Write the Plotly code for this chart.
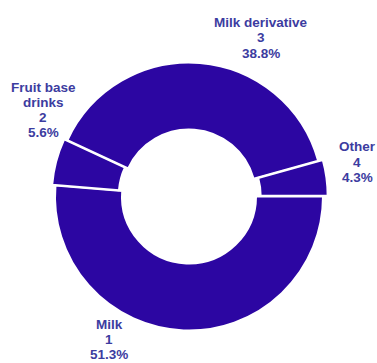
import plotly.graph_objects as go

categories = ["Milk", "Fruit base<br>drinks", "Milk derivative", "Other"]
codes = ["1", "2", "3", "4"]
shares = [51.3, 5.6, 38.8, 4.3]

W, H = 377, 363
FILL = "#2C06A2"
TEXT = "#3C3CA0"
LINE_H = 15.3

# label block centres in pixels (layout only)
label_pos = [(109, 339.5), (43, 110), (261, 38), (357, 162)]

cx, cy, r = 189, 196.5, 134
pulls = [0, 0.025, 0, 0.035]
rr = r * (1 + max(pulls))

fig = go.Figure(go.Pie(
    labels=categories,
    values=shares,
    customdata=codes,
    sort=False,
    direction="clockwise",
    rotation=90,
    hole=0.5,
    pull=pulls,
    marker=dict(colors=[FILL] * len(shares), line=dict(color="white", width=2)),
    textinfo="none",
    hoverinfo="label+percent",
    showlegend=False,
    domain=dict(x=[(cx - rr) / W, (cx + rr) / W],
                y=[(H - cy - rr) / H, (H - cy + rr) / H]),
))

annotations = []
for lab, code, s, (px, py) in zip(categories, codes, shares, label_pos):
    lines = lab.split("<br>") + [code, f"{s:.1f}%"]
    n = len(lines)
    for i, ln in enumerate(lines):
        ly = py + (i - (n - 1) / 2) * LINE_H
        annotations.append(dict(
            text=f"<b>{ln}</b>",
            x=px / W, y=1 - ly / H, xref="paper", yref="paper",
            xanchor="center", yanchor="middle", showarrow=False,
            font=dict(family="Liberation Sans, Arial, sans-serif", size=13.5, color=TEXT),
        ))

fig.update_layout(
    width=W, height=H,
    margin=dict(l=0, r=0, t=0, b=0),
    paper_bgcolor="white", plot_bgcolor="white",
    annotations=annotations,
)

fig.write_html("out.html")
